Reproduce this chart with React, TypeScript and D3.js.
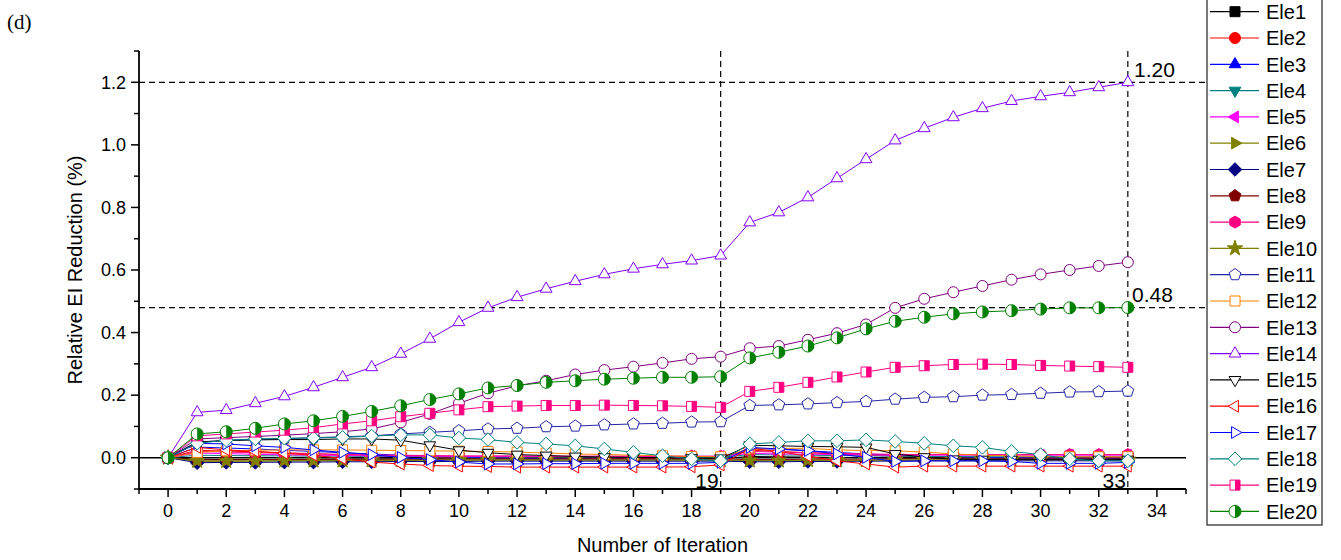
import React from 'react';
import * as d3 from 'd3';

const iterations = [0,1,2,3,4,5,6,7,8,9,10,11,12,13,14,15,16,17,18,19,20,21,22,23,24,25,26,27,28,29,30,31,32,33];

const ele1 = [0,-0.005,-0.006,-0.006,-0.006,-0.005,-0.005,-0.004,-0.004,-0.004,-0.004,-0.004,-0.004,-0.004,-0.004,-0.003,-0.003,-0.003,-0.003,-0.003,0.004,0.003,0.002,0.001,0.000,-0.001,-0.001,-0.001,-0.001,-0.001,-0.001,-0.001,-0.001,-0.001];
const ele2 = [0,0.024,0.021,0.019,0.016,0.013,0.010,0.007,0.005,0.003,0.001,0.000,-0.001,-0.001,-0.002,-0.002,-0.002,-0.002,-0.002,-0.002,0.024,0.020,0.016,0.012,0.008,0.005,0.003,0.002,0.001,0.001,0.000,0.000,0.000,0.000];
const ele3 = [0,0.034,0.031,0.028,0.024,0.020,0.016,0.012,0.008,0.005,0.002,0.000,-0.002,-0.003,-0.004,-0.004,-0.005,-0.005,-0.005,-0.005,0.030,0.027,0.022,0.017,0.012,0.008,0.005,0.003,0.001,0.000,-0.001,-0.001,-0.002,-0.002];
const ele4 = [0,0.008,0.007,0.006,0.006,0.005,0.005,0.004,0.004,0.003,0.003,0.003,0.002,0.002,0.002,0.002,0.002,0.002,0.001,0.001,0.010,0.009,0.008,0.007,0.006,0.005,0.004,0.004,0.003,0.003,0.003,0.003,0.003,0.003];
const ele5 = [0,0.015,0.013,0.011,0.009,0.008,0.007,0.006,0.005,0.005,0.004,0.004,0.004,0.004,0.004,0.004,0.004,0.004,0.004,0.004,0.014,0.012,0.011,0.010,0.009,0.008,0.008,0.008,0.008,0.008,0.008,0.008,0.008,0.008];
const ele6 = [0,-0.012,-0.012,-0.011,-0.011,-0.010,-0.010,-0.009,-0.009,-0.008,-0.008,-0.008,-0.008,-0.008,-0.008,-0.008,-0.008,-0.008,-0.008,-0.008,-0.010,-0.010,-0.010,-0.009,-0.009,-0.008,-0.008,-0.008,-0.008,-0.007,-0.007,-0.007,-0.007,-0.007];
const ele7 = [0,-0.016,-0.015,-0.015,-0.014,-0.014,-0.013,-0.013,-0.012,-0.012,-0.012,-0.011,-0.011,-0.011,-0.011,-0.011,-0.011,-0.011,-0.011,-0.011,-0.013,-0.013,-0.012,-0.012,-0.011,-0.011,-0.010,-0.010,-0.010,-0.010,-0.010,-0.010,-0.010,-0.010];
const ele8 = [0,-0.007,-0.007,-0.006,-0.006,-0.006,-0.005,-0.005,-0.005,-0.005,-0.004,-0.004,-0.004,-0.004,-0.004,-0.004,-0.004,-0.004,-0.004,-0.004,-0.006,-0.006,-0.005,-0.005,-0.005,-0.004,-0.004,-0.004,-0.004,-0.004,-0.004,-0.004,-0.004,-0.004];
const ele9 = [0,0.020,0.018,0.016,0.014,0.012,0.010,0.009,0.008,0.007,0.006,0.006,0.006,0.005,0.005,0.005,0.005,0.005,0.005,0.005,0.020,0.018,0.016,0.014,0.012,0.011,0.010,0.010,0.010,0.010,0.010,0.010,0.010,0.010];
const ele10 = [0,-0.010,-0.010,-0.010,-0.009,-0.009,-0.009,-0.008,-0.008,-0.008,-0.007,-0.007,-0.007,-0.007,-0.007,-0.007,-0.007,-0.007,-0.007,-0.007,-0.009,-0.009,-0.008,-0.008,-0.008,-0.007,-0.007,-0.007,-0.006,-0.006,-0.006,-0.006,-0.006,-0.006];
const ele11 = [0,0.050,0.055,0.058,0.061,0.064,0.067,0.070,0.076,0.081,0.086,0.092,0.094,0.099,0.101,0.105,0.108,0.110,0.114,0.115,0.167,0.169,0.172,0.176,0.180,0.187,0.193,0.195,0.200,0.202,0.206,0.210,0.211,0.213];
const ele12 = [0,0.017,0.022,0.024,0.025,0.025,0.025,0.024,0.023,0.022,0.021,0.020,0.018,0.015,0.012,0.010,0.008,0.006,0.004,0.003,0.028,0.030,0.030,0.025,0.023,0.022,0.018,0.012,0.008,0.006,0.004,0.003,0.003,0.003];
const ele13 = [0,0.060,0.064,0.068,0.072,0.077,0.083,0.092,0.113,0.140,0.174,0.206,0.230,0.246,0.266,0.280,0.291,0.303,0.316,0.323,0.350,0.357,0.377,0.398,0.426,0.479,0.508,0.529,0.549,0.569,0.586,0.600,0.613,0.625];
const ele14 = [0,0.145,0.152,0.174,0.196,0.225,0.257,0.289,0.332,0.380,0.433,0.479,0.513,0.540,0.564,0.586,0.604,0.618,0.630,0.646,0.752,0.784,0.832,0.893,0.954,1.014,1.053,1.088,1.117,1.140,1.155,1.168,1.184,1.200];
const ele15 = [0,0.050,0.055,0.057,0.058,0.058,0.060,0.060,0.056,0.040,0.024,0.016,0.010,0.007,0.004,0.002,0.001,0.000,-0.001,-0.002,0.040,0.038,0.036,0.035,0.033,0.012,0.002,-0.005,-0.006,-0.006,-0.006,-0.006,-0.006,-0.006];
const ele16 = [0,0.033,0.025,0.020,0.014,0.008,-0.003,-0.014,-0.020,-0.025,-0.027,-0.028,-0.030,-0.030,-0.030,-0.030,-0.030,-0.030,-0.029,-0.023,0.030,0.020,0.005,-0.010,-0.020,-0.030,-0.027,-0.027,-0.027,-0.027,-0.027,-0.027,-0.027,-0.027];
const ele17 = [0,0.046,0.044,0.038,0.033,0.025,0.017,0.010,0.001,-0.006,-0.014,-0.020,-0.020,-0.019,-0.019,-0.018,-0.018,-0.018,-0.018,-0.015,0.033,0.028,0.023,0.012,0.001,-0.012,-0.010,-0.010,-0.010,-0.012,-0.018,-0.018,-0.018,-0.015];
const ele18 = [0,0.046,0.056,0.060,0.062,0.063,0.065,0.069,0.073,0.073,0.063,0.058,0.049,0.044,0.038,0.028,0.017,0.006,-0.004,-0.010,0.044,0.049,0.054,0.054,0.057,0.052,0.046,0.038,0.033,0.020,0.010,-0.004,-0.010,-0.010];
const ele19 = [0,0.070,0.076,0.082,0.088,0.096,0.108,0.118,0.131,0.142,0.153,0.163,0.165,0.167,0.167,0.168,0.167,0.166,0.164,0.161,0.212,0.225,0.241,0.258,0.274,0.289,0.294,0.298,0.299,0.298,0.295,0.293,0.291,0.289];
const ele20 = [0,0.076,0.083,0.094,0.108,0.118,0.132,0.148,0.166,0.186,0.204,0.223,0.231,0.241,0.246,0.251,0.254,0.257,0.257,0.259,0.319,0.337,0.357,0.383,0.412,0.436,0.449,0.460,0.466,0.470,0.475,0.479,0.479,0.480];

const seriesValues = [ele1,ele2,ele3,ele4,ele5,ele6,ele7,ele8,ele9,ele10,ele11,ele12,ele13,ele14,ele15,ele16,ele17,ele18,ele19,ele20];
const seriesNames = ['Ele1','Ele2','Ele3','Ele4','Ele5','Ele6','Ele7','Ele8','Ele9','Ele10','Ele11','Ele12','Ele13','Ele14','Ele15','Ele16','Ele17','Ele18','Ele19','Ele20'];
const seriesColors = ['#000000','#ff0000','#0000ff','#008080','#ff00ff','#808000','#000080','#800000','#ff0080','#808000','#2626a6','#ff8000','#800080','#8000ff','#000000','#ff0000','#0000ff','#008080','#ff0080','#008000'];
const seriesShapes = ['square','circle','up','down','left','right','diamond','pentagon','hexagon','star','pentagon','square','circle','up','down','left','right','diamond','halfsquare','halfcircle'];
const seriesModes = ['fill','fill','fill','fill','fill','fill','fill','fill','fill','fill','open','open','open','open','open','open','open','open','half','half'];

const xMajorTicks = [0,2,4,6,8,10,12,14,16,18,20,22,24,26,28,30,32,34];
const xMinorTicks = [-1,1,3,5,7,9,11,13,15,17,19,21,23,25,27,29,31,33,35];
const yMajorTicks = [0,0.2,0.4,0.6,0.8,1.0,1.2];
const yMinorTicks = [-0.1,0.1,0.3,0.5,0.7,0.9,1.1,1.3];
const refValues = [1.2, 0.48];
const refIterations = [19, 33];

const W = 1341, H = 560;
const FONT = 'Arial, "Liberation Sans", sans-serif';
const x = d3.scaleLinear().domain([-1, 35]).range([139, 1186]);
const y = d3.scaleLinear().domain([-0.1, 1.3]).range([489, 51]);

function poly(n: number, r: number, rot: number) {
  const pts: string[] = [];
  for (let i = 0; i < n; i++) {
    const a = rot + (i * 2 * Math.PI) / n;
    pts.push(`${(r * Math.sin(a)).toFixed(2)},${(-r * Math.cos(a)).toFixed(2)}`);
  }
  return 'M' + pts.join('L') + 'Z';
}

function shapePath(shape: string): string {
  switch (shape) {
    case 'square':
    case 'halfsquare':
      return 'M-5,-5H5V5H-5Z';
    case 'circle':
      return 'M0,-5.5A5.5,5.5 0 1 1 0,5.5A5.5,5.5 0 1 1 0,-5.5Z';
    case 'halfcircle':
      return 'M0,-6A6,6 0 1 1 0,6A6,6 0 1 1 0,-6Z';
    case 'up': return poly(3, 6.8, 0);
    case 'down': return poly(3, 6.8, Math.PI);
    case 'left': return poly(3, 6.8, -Math.PI / 2);
    case 'right': return poly(3, 6.8, Math.PI / 2);
    case 'diamond': return poly(4, 6.8, 0);
    case 'pentagon': return poly(5, 6.2, 0);
    case 'hexagon': return poly(6, 6, 0);
    case 'star': return d3.symbol().type(d3.symbolStar).size(75)() as string;
  }
  return '';
}

function halfPath(shape: string): string {
  if (shape === 'halfsquare') return 'M0,-5H5V5H0Z';
  if (shape === 'halfcircle') return 'M0,-6A6,6 0 0 1 0,6Z';
  return '';
}

function Marker({ shape, color, mode, cx, cy }: { shape: string; color: string; mode: string; cx: number; cy: number }) {
  const d = shapePath(shape);
  return (
    <g transform={`translate(${cx},${cy})`}>
      <path d={d} fill={mode === 'fill' ? color : '#ffffff'} stroke={color} strokeWidth={1} />
      {mode === 'half' && <path d={halfPath(shape)} fill={color} stroke="none" />}
    </g>
  );
}

export default function App() {
  const line = d3.line<number>().x((_, i) => x(iterations[i])).y((v) => y(v));
  const legendTop = 11.7;
  const legendStep = 26.3;
  return (
    <svg width={W} height={H} style={{ position: 'absolute', left: 0, top: 0, background: '#fff' }} fontFamily={FONT}>
      <rect x={0} y={0} width={W} height={H} fill="#fff" />
      <text x={7} y={29} fontFamily='"Liberation Serif", "Times New Roman", serif' fontSize={21}>(d)</text>

      {/* reference lines */}
      {refValues.map((v) => (
        <line key={'h' + v} x1={x(-1)} x2={1207} y1={y(v)} y2={y(v)} stroke="#000" strokeWidth={1.2} strokeDasharray="6,4" />
      ))}
      {refIterations.map((it) => (
        <line key={'v' + it} x1={x(it)} x2={x(it)} y1={y(1.3)} y2={y(-0.1)} stroke="#000" strokeWidth={1.2} strokeDasharray="6,4" />
      ))}
      {/* zero line */}
      <line x1={x(-1)} x2={x(35)} y1={y(0)} y2={y(0)} stroke="#000" strokeWidth={1.5} />

      {/* series */}
      {seriesValues.map((vals, si) => (
        <g key={seriesNames[si]}>
          <path d={line(vals) as string} fill="none" stroke={seriesColors[si]} strokeWidth={1} />
          {vals.map((v, i) => (
            <Marker key={i} shape={seriesShapes[si]} color={seriesColors[si]} mode={seriesModes[si]} cx={x(iterations[i])} cy={y(v)} />
          ))}
        </g>
      ))}

      {/* axes */}
      <line x1={x(-1)} x2={x(-1)} y1={y(1.3)} y2={y(-0.1)} stroke="#000" strokeWidth={1.8} />
      <line x1={x(-1)} x2={x(35)} y1={y(-0.1)} y2={y(-0.1)} stroke="#000" strokeWidth={1.8} />
      {yMajorTicks.map((t) => (
        <g key={'ym' + t}>
          <line x1={x(-1) - 8} x2={x(-1)} y1={y(t)} y2={y(t)} stroke="#000" strokeWidth={1.5} />
          <text x={x(-1) - 13} y={y(t)} dy="0.35em" textAnchor="end" fontSize={18}>{d3.format('.1f')(t)}</text>
        </g>
      ))}
      {yMinorTicks.map((t) => (
        <line key={'yn' + t} x1={x(-1) - 5} x2={x(-1)} y1={y(t)} y2={y(t)} stroke="#000" strokeWidth={1.5} />
      ))}
      {xMajorTicks.map((t) => (
        <g key={'xm' + t}>
          <line x1={x(t)} x2={x(t)} y1={y(-0.1)} y2={y(-0.1) + 8} stroke="#000" strokeWidth={1.5} />
          <text x={x(t)} y={517} textAnchor="middle" fontSize={18}>{t}</text>
        </g>
      ))}
      {xMinorTicks.map((t) => (
        <line key={'xn' + t} x1={x(t)} x2={x(t)} y1={y(-0.1)} y2={y(-0.1) + 5} stroke="#000" strokeWidth={1.5} />
      ))}

      <text x={(x(-1) + x(35)) / 2} y={552} textAnchor="middle" fontSize={20}>Number of Iteration</text>
      <text transform={`translate(82,${(y(1.3) + y(-0.1)) / 2}) rotate(-90)`} textAnchor="middle" fontSize={20}>Relative EI Reduction (%)</text>

      {/* annotations */}
      <text x={1134} y={77} fontSize={21}>1.20</text>
      <text x={1132} y={302} fontSize={21}>0.48</text>
      <text x={x(19) - 2} y={488} textAnchor="end" fontSize={21}>19</text>
      <text x={x(33) - 2} y={488} textAnchor="end" fontSize={21}>33</text>

      {/* legend */}
      <rect x={1207} y={-2} width={115} height={527} fill="#fff" stroke="#333" strokeWidth={1.3} />
      {seriesNames.map((name, si) => {
        const ly = legendTop + si * legendStep;
        return (
          <g key={'lg' + name}>
            <line x1={1210} x2={1259} y1={ly} y2={ly} stroke={seriesColors[si]} strokeWidth={1.2} />
            <Marker shape={seriesShapes[si]} color={seriesColors[si]} mode={seriesModes[si]} cx={1235} cy={ly} />
            <text x={1266} y={ly} dy="0.36em" fontSize={20}>{name}</text>
          </g>
        );
      })}
    </svg>
  );
}
